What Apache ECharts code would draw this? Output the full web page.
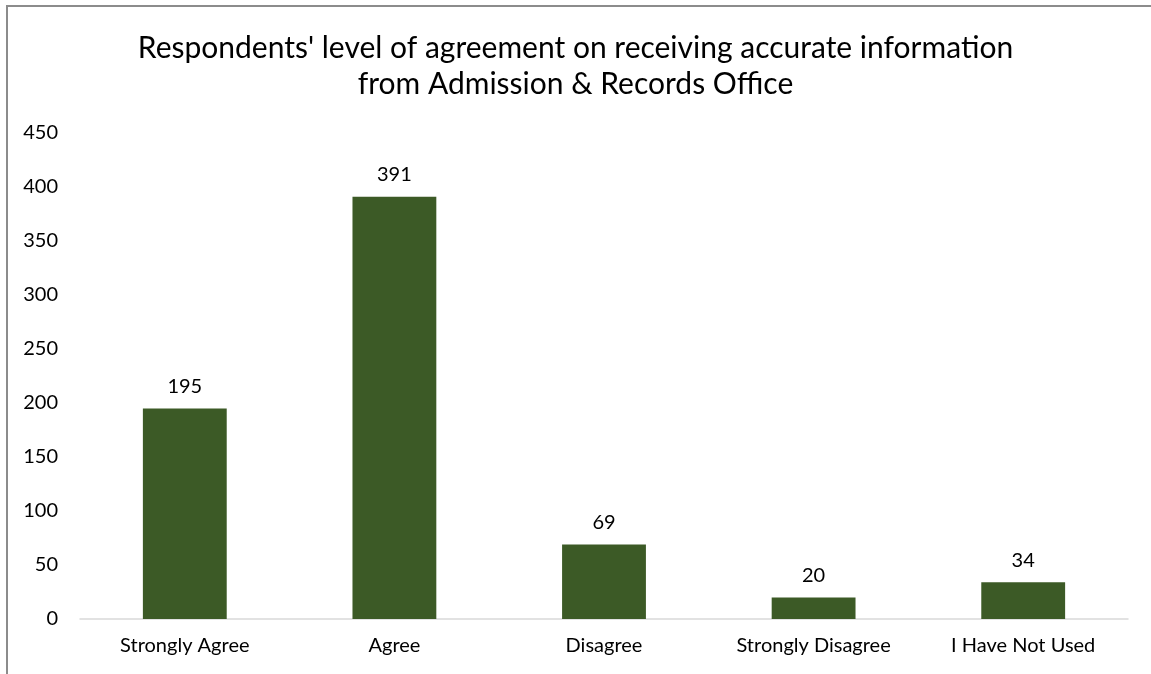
<!DOCTYPE html>
<html><head><meta charset="utf-8">
<script src="https://cdn.jsdelivr.net/npm/echarts@6/dist/echarts.min.js"></script>
<style>
html,body{margin:0;padding:0;background:#fff;}
#frame{position:absolute;left:6px;top:5px;width:1151px;height:680px;border-left:2px solid #8c8c8c;border-top:2px solid #8c8c8c;box-sizing:border-box;}
#c{position:absolute;left:0;top:0;width:1151px;height:674px;}
</style></head>
<body>
<div id="frame"></div>
<div id="c"></div>
<script>
const categories = ['Strongly Agree','Agree','Disagree','Strongly Disagree','I Have Not Used'];
const values = [195, 391, 69, 20, 34];
const titleText = "Respondents' level of agreement on receiving accurate information\nfrom Admission & Records Office";
const chart = echarts.init(document.getElementById('c'));
const font = "Lato, 'Open Sans', sans-serif";
chart.setOption({
  animation:false,
  title:{text:titleText,left:'center',top:25,textStyle:{fontFamily:font,fontSize:30,fontWeight:'normal',color:'#000',lineHeight:36}},
  grid:{left:80,right:23,top:133,bottom:55},
  xAxis:{type:'category',data:categories,axisTick:{show:false},
    axisLine:{lineStyle:{color:'#d9d9d9',width:1.5}},
    axisLabel:{interval:0,fontFamily:font,fontSize:20,color:'#000',margin:17}},
  yAxis:{type:'value',min:0,max:450,interval:50,splitLine:{show:false},
    axisLabel:{fontFamily:font,fontSize:20,color:'#000',margin:22}},
  series:[{type:'bar',data:values,barWidth:'40%',itemStyle:{color:'#3C5A26'},
    label:{show:true,position:'top',distance:12,fontFamily:font,fontSize:20,color:'#000'}}]
});
</script>
</body></html>
